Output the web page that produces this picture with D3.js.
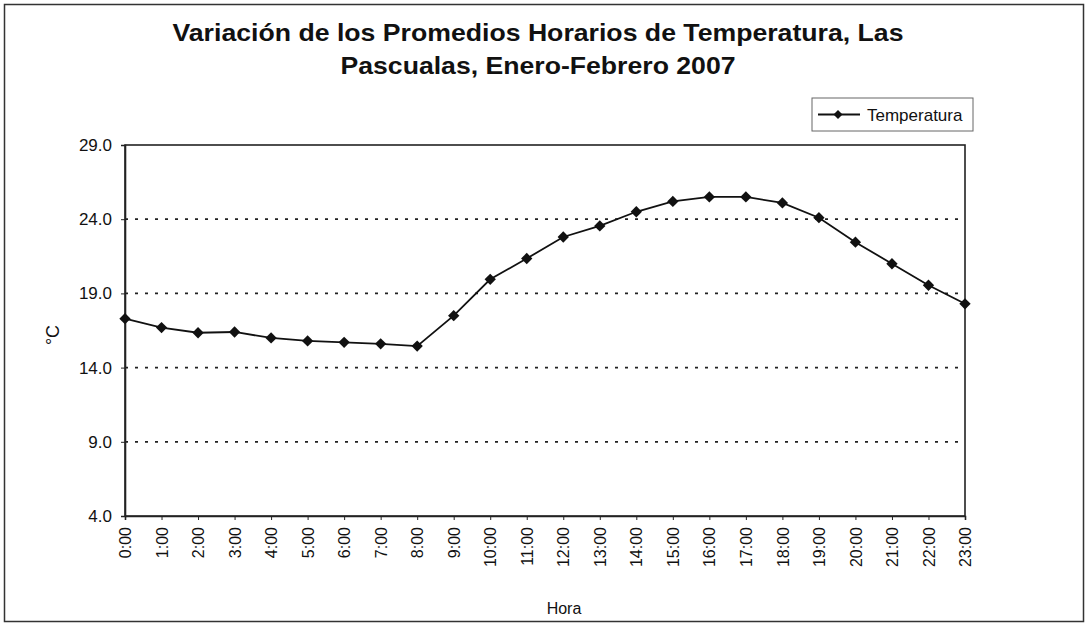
<!DOCTYPE html>
<meta charset="utf-8">
<style>
  body { margin: 0; background: #fff; }
  text { font-family: "Liberation Sans", Arial, sans-serif; fill: #111; }
</style>
<svg width="1087" height="628"></svg>
<script src="https://d3js.org/d3.v7.min.js"></script>
<script>
// hourly averages
var horas = ['0:00','1:00','2:00','3:00','4:00','5:00','6:00','7:00','8:00','9:00','10:00','11:00',
  '12:00','13:00','14:00','15:00','16:00','17:00','18:00','19:00','20:00','21:00','22:00','23:00']
var temperatura = [17.3, 16.7, 16.35, 16.4, 16.0, 15.8, 15.7, 15.6, 15.45, 17.5, 19.95, 21.35,
  22.8, 23.55, 24.5, 25.2, 25.5, 25.5, 25.1, 24.1, 22.45, 21.0, 19.55, 18.3]
var yTicks = [4, 9, 14, 19, 24, 29]

var svg = d3.select('svg')
var margin = { left: 125, right: 122, top: 145, bottom: 112 }
var width = 1087, height = 628
var font = '"Liberation Sans", Arial, sans-serif'

// outer chart frame
svg.append('rect')
  .attr('x', 4.5).attr('y', 4.5)
  .attr('width', 1079).attr('height', 617)
  .attr('fill', 'none').attr('stroke', '#333').attr('stroke-width', 1.5)

var x = d3.scalePoint()
  .domain(horas)
  .range([margin.left, width - margin.right])

var y = d3.scaleLinear()
  .domain([4, 29])
  .range([height - margin.bottom, margin.top])

// title (the scan is a little wider than the font, so stretch it)
var title = svg.append('text')
  .attr('text-anchor', 'middle')
  .attr('font-size', 24)
  .attr('font-weight', 'bold')
  .attr('lengthAdjust', 'spacingAndGlyphs')
title.append('tspan').attr('x', 538).attr('y', 41)
  .attr('textLength', 731).attr('lengthAdjust', 'spacingAndGlyphs')
  .text('Variación de los Promedios Horarios de Temperatura, Las')
svg.append('text')
  .attr('text-anchor', 'middle')
  .attr('font-size', 24)
  .attr('font-weight', 'bold')
  .attr('x', 538).attr('y', 74)
  .attr('textLength', 395).attr('lengthAdjust', 'spacingAndGlyphs')
  .text('Pascualas, Enero-Febrero 2007')

// dotted grid lines
svg.append('g')
  .selectAll('line')
  .data(yTicks.slice(1, -1))
  .enter().append('line')
  .attr('x1', margin.left).attr('x2', width - margin.right)
  .attr('y1', function (d) { return y(d) }).attr('y2', function (d) { return y(d) })
  .attr('stroke', '#222').attr('stroke-width', 1.8)
  .attr('stroke-dasharray', '3,7')

// plot area border
svg.append('rect')
  .attr('x', margin.left).attr('y', margin.top)
  .attr('width', width - margin.right - margin.left)
  .attr('height', height - margin.bottom - margin.top)
  .attr('fill', 'none').attr('stroke', '#222').attr('stroke-width', 1.6)

// y axis
var yAxis = svg.append('g')
  .attr('transform', 'translate(' + margin.left + ',0)')
  .call(d3.axisLeft(y).tickValues(yTicks).tickFormat(d3.format('.1f')).tickSize(4).tickPadding(9))
yAxis.select('.domain').attr('stroke', '#222').attr('stroke-width', 1.6)
yAxis.selectAll('.tick line').attr('stroke', '#222')
yAxis.selectAll('text').attr('font-size', 17).attr('font-family', font).attr('fill', '#222')

// x axis
var xAxis = svg.append('g')
  .attr('transform', 'translate(0,' + (height - margin.bottom) + ')')
  .call(d3.axisBottom(x).tickSize(4).tickPadding(6))
xAxis.select('.domain').attr('stroke', '#222').attr('stroke-width', 1.6)
xAxis.selectAll('.tick line').attr('stroke', '#222')
xAxis.selectAll('text')
  .attr('font-size', 16)
  .attr('font-family', font)
  .attr('fill', '#222')
  .attr('text-anchor', 'end')
  .attr('transform', 'rotate(-90)')
  .attr('x', -11).attr('y', 0).attr('dy', '0.35em')

// axis titles
svg.append('text')
  .attr('x', 564).attr('y', 614)
  .attr('text-anchor', 'middle').attr('font-size', 16)
  .text('Hora')
svg.append('text')
  .attr('transform', 'translate(59,335) rotate(-90)')
  .attr('text-anchor', 'middle').attr('font-size', 18)
  .text('°C')

// series
var serie = horas.map(function (h, i) { return { hora: h, valor: temperatura[i] } })
var line = d3.line()
  .x(function (d) { return x(d.hora) })
  .y(function (d) { return y(d.valor) })

svg.append('path')
  .datum(serie)
  .attr('d', line)
  .attr('fill', 'none').attr('stroke', '#111').attr('stroke-width', 1.8)

// diamond marker: a square turned 45 degrees
var marker = d3.symbol().type(d3.symbolSquare).size(64)
svg.append('g')
  .selectAll('path')
  .data(serie)
  .enter().append('path')
  .attr('d', marker)
  .attr('transform', function (d) { return 'translate(' + x(d.hora) + ',' + y(d.valor) + ') rotate(45)' })
  .attr('fill', '#111')

// legend
var legend = svg.append('g').attr('transform', 'translate(812,98)')
legend.append('rect')
  .attr('width', 161).attr('height', 33)
  .attr('fill', '#fff').attr('stroke', '#666').attr('stroke-width', 1)
legend.append('line')
  .attr('x1', 6).attr('x2', 48).attr('y1', 16.5).attr('y2', 16.5)
  .attr('stroke', '#111').attr('stroke-width', 1.8)
legend.append('path')
  .attr('d', d3.symbol().type(d3.symbolSquare).size(40))
  .attr('transform', 'translate(26,16.5) rotate(45)')
  .attr('fill', '#111')
legend.append('text')
  .attr('x', 55).attr('y', 22.5)
  .attr('font-size', 17)
  .text('Temperatura')
</script>
